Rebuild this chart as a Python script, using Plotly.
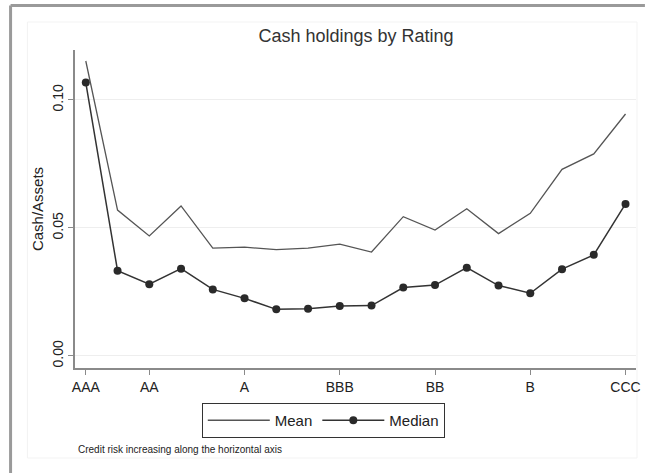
import plotly.graph_objects as go

# rating notches, best to worst
ratings = ["AAA", "AA+", "AA", "AA-", "A+", "A", "A-", "BBB+", "BBB", "BBB-",
           "BB+", "BB", "BB-", "B+", "B", "B-", "CCC+", "CCC"]
mean_cash = [0.1152, 0.0570, 0.0469, 0.0586, 0.0421, 0.0425, 0.0415, 0.0421, 0.0437,
             0.0406, 0.0544, 0.0492, 0.0575, 0.0478, 0.0557, 0.0729, 0.0789, 0.0945]
median_cash = [0.1068, 0.0333, 0.0280, 0.0341, 0.0260, 0.0225, 0.0182, 0.0184, 0.0195,
               0.0197, 0.0267, 0.0277, 0.0345, 0.0275, 0.0245, 0.0339, 0.0395, 0.0594]
tick_ratings = ["AAA", "AA", "A", "BBB", "BB", "B", "CCC"]
y_ticks = [0.0, 0.05, 0.10]
y_ticktext = ["0.00", "0.05", "0.10"]

FONT = "Liberation Sans"
L, R, T, B = 75, 5, 50, 105
W, H = 646, 473
pw, ph = W - L - R, H - T - B


def px(x):  # pixel -> paper x
    return (x - L) / pw


def py(y):  # pixel -> paper y
    return (H - B - y) / ph


fig = go.Figure()
fig.add_trace(go.Scatter(
    x=ratings, y=mean_cash, mode="lines", name="Mean",
    line={"color": "#555555", "width": 1.3},
))
fig.add_trace(go.Scatter(
    x=ratings, y=median_cash, mode="lines+markers", name="Median",
    line={"color": "#333333", "width": 1.5},
    marker={"color": "#2a2a2a", "size": 8},
))

shapes = [
    # faint inner graph region
    dict(type="rect", xref="paper", yref="paper", x0=px(27), x1=px(642), y0=py(458), y1=py(22),
         line={"color": "#f3f3f3", "width": 1}, layer="below"),
    # outer frame (top and left edges visible)
    dict(type="line", xref="paper", yref="paper", x0=px(10), x1=px(650), y0=py(5.5), y1=py(5.5),
         line={"color": "#9a9a9a", "width": 3}),
    dict(type="line", xref="paper", yref="paper", x0=px(10), x1=px(10), y0=py(5.5), y1=py(480),
         line={"color": "#9a9a9a", "width": 3}),
]

fig.update_layout(
    width=W, height=H,
    margin={"l": L, "r": R, "t": T, "b": B},
    paper_bgcolor="white", plot_bgcolor="white",
    font={"family": FONT, "color": "#222222", "size": 14},
    title={"text": "Cash holdings by Rating", "x": px(358.5), "xref": "paper",
           "xanchor": "center", "y": 1 - 36 / H, "yanchor": "middle",
           "font": {"size": 18, "color": "#333333"}},
    xaxis={"type": "category", "range": [-0.34, 17.33],
           "tickmode": "array", "tickvals": tick_ratings, "ticktext": tick_ratings,
           "showgrid": False, "zeroline": False,
           "showline": True, "linecolor": "#8a8a8a", "linewidth": 1.5,
           "ticks": "outside", "ticklen": 5, "tickcolor": "#8a8a8a",
           "tickfont": {"size": 14}},
    yaxis={"range": [-0.0047, 0.1195],
           "tickmode": "array", "tickvals": y_ticks, "ticktext": y_ticktext,
           "tickangle": -90, "showgrid": True, "gridcolor": "#eeeeee", "gridwidth": 1,
           "zeroline": False, "showline": True, "linecolor": "#8a8a8a", "linewidth": 1.5,
           "ticks": "outside", "ticklen": 5, "tickcolor": "#8a8a8a",
           "tickfont": {"size": 14},
           "title": {"text": "Cash/Assets", "font": {"size": 15}, "standoff": 2}},
    legend={"orientation": "h", "x": px(325.5), "xanchor": "center",
            "y": py(403), "yanchor": "top",
            "bordercolor": "#333333", "borderwidth": 1, "bgcolor": "white",
            "font": {"size": 15}, "itemwidth": 62},
    shapes=shapes,
    annotations=[dict(text="Credit risk increasing along the horizontal axis",
                      xref="paper", yref="paper", x=px(76), y=py(449),
                      xanchor="left", yanchor="middle", showarrow=False,
                      font={"size": 10, "color": "#222222"})],
)

# page body has a default 8px margin; drop it so the figure sits at the window corner
fig.write_html("out.html", config={"displayModeBar": False},
               post_script="document.body.style.margin='0';")
